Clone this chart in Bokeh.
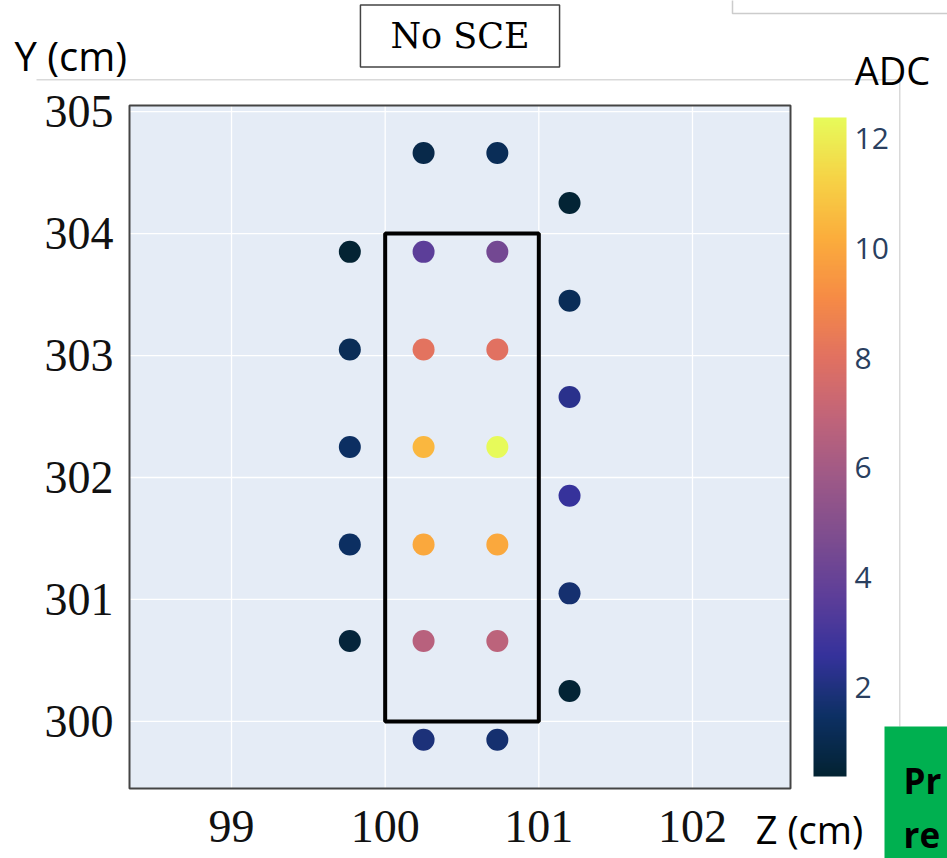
from bokeh.plotting import figure
from bokeh.models import (ColumnDataSource, LinearColorMapper, ColorBar, FixedTicker,
                          Label, BoxAnnotation, Range1d)
from bokeh.transform import transform
from bokeh.embed import file_html
from bokeh.resources import INLINE

# Hit positions on the wire plane (cm) and their charge (ADC)
z_cm = [99.77, 99.77, 99.77, 99.77, 99.77,
        100.25, 100.25, 100.25, 100.25, 100.25, 100.25, 100.25,
        100.73, 100.73, 100.73, 100.73, 100.73, 100.73, 100.73,
        101.20, 101.20, 101.20, 101.20, 101.20, 101.20]
y_cm = [303.85, 303.05, 302.25, 301.45, 300.66,
        304.66, 303.85, 303.05, 302.25, 301.45, 300.66, 299.85,
        304.66, 303.85, 303.05, 302.25, 301.45, 300.66, 299.85,
        304.25, 303.45, 302.66, 301.85, 301.05, 300.25]
adc = [0.38, 1.2, 1.45, 1.45, 0.6,
       0.9, 3.65, 8.1, 10.5, 10.0, 6.65, 1.9,
       1.2, 4.4, 8.0, 12.38, 10.0, 6.8, 1.7,
       0.45, 1.2, 2.3, 2.6, 1.7, 0.45]

# Region of interest (cm)
box_z = [100, 101]
box_y = [300, 304]

x_ticks = [99, 100, 101, 102]
y_ticks = [300, 301, 302, 303, 304, 305]
cbar_ticks = [2, 4, 6, 8, 10, 12]

# visible extent of the Z/Y plot area (cm)
z_view = [98.336, 102.638]
y_view = [299.45, 305.05]

# cmocean "thermal" colour stops
thermal_stops = [(3, 35, 51), (13, 48, 100), (53, 50, 155), (93, 62, 153),
                 (126, 77, 143), (158, 89, 135), (193, 100, 121), (225, 113, 97),
                 (246, 139, 69), (251, 173, 60), (246, 211, 70), (231, 250, 90)]


def build_palette(stops, n=256):
    out = []
    seg = len(stops) - 1
    for i in range(n):
        t = i / (n - 1) * seg
        k = min(int(t), seg - 1)
        f = t - k
        a, b = stops[k], stops[k + 1]
        rgb = [round(a[j] + (b[j] - a[j]) * f) for j in range(3)]
        out.append("#%02x%02x%02x" % tuple(rgb))
    return out


palette = build_palette(thermal_stops)

# page geometry (px): the canvas, and where the plot area sits on it
W, H = 947, 858
AREA_L, AREA_R, AREA_T, AREA_B = 129, 790, 105, 788

kx = (z_view[1] - z_view[0]) / (AREA_R - AREA_L)
ky = (y_view[1] - y_view[0]) / (AREA_B - AREA_T)
x_range = Range1d(z_view[0] - AREA_L * kx, z_view[1] + (W - AREA_R) * kx)
y_range = Range1d(y_view[0] - (H - AREA_B) * ky, y_view[1] + AREA_T * ky)


def sy(py):
    # screen units are measured upward from the bottom of the canvas
    return H - py


def screen_box(left, right, top, bottom, **kw):
    return BoxAnnotation(left=left, right=right, top=sy(top), bottom=sy(bottom),
                         left_units="screen", right_units="screen",
                         top_units="screen", bottom_units="screen", **kw)


p = figure(width=W, height=H, x_range=x_range, y_range=y_range,
           output_backend="svg", toolbar_location=None,
           min_border=0, min_border_left=0, min_border_right=0,
           min_border_top=0, min_border_bottom=0,
           background_fill_color="white", border_fill_color="white",
           outline_line_color=None)
p.title.visible = False
p.grid.visible = False

# plot area with its grid
p.quad(left=[z_view[0]], right=[z_view[1]], bottom=[y_view[0]], top=[y_view[1]],
       fill_color="#E5ECF6", line_color=None)
p.segment(x0=x_ticks, x1=x_ticks, y0=[y_view[0]] * len(x_ticks), y1=[y_view[1]] * len(x_ticks),
          line_color="white", line_width=1.3)
p.segment(x0=[z_view[0]] * len(y_ticks), x1=[z_view[1]] * len(y_ticks), y0=y_ticks, y1=y_ticks,
          line_color="white", line_width=1.3)
p.quad(left=[z_view[0]], right=[z_view[1]], bottom=[y_view[0]], top=[y_view[1]],
       fill_color=None, line_color="#444444", line_width=2)

# axes pinned to the edges of the plot area
p.xaxis.fixed_location = y_view[0]
p.yaxis.fixed_location = z_view[0]
p.xaxis.ticker = FixedTicker(ticks=x_ticks)
p.yaxis.ticker = FixedTicker(ticks=y_ticks)
for ax in (p.xaxis, p.yaxis):
    ax.axis_line_color = None
    ax.major_tick_line_color = None
    ax.minor_tick_line_color = None
    ax.major_label_text_font = "Liberation Serif"
    ax.major_label_text_font_size = "46px"
    ax.major_label_text_color = "#111111"
p.xaxis.major_label_standoff = 16
p.yaxis.major_label_standoff = 10

mapper = LinearColorMapper(palette=palette, low=min(adc), high=max(adc))
src = ColumnDataSource(dict(z=z_cm, y=y_cm, adc=adc))

p.quad(left=[box_z[0]], right=[box_z[1]], bottom=[box_y[0]], top=[box_y[1]],
       fill_color=None, line_color="black", line_width=4)
p.scatter("z", "y", source=src, size=22, line_color=None,
          fill_color=transform("adc", mapper))

cb = ColorBar(color_mapper=mapper, ticker=FixedTicker(ticks=cbar_ticks),
              width=33, height=659, padding=0, margin=0, location=(813, sy(776)),
              label_standoff=8, major_tick_line_color=None, bar_line_color=None,
              border_line_color=None, background_fill_color=None,
              major_label_text_font="Open Sans", major_label_text_font_size="30px",
              major_label_text_color="#2a3f5f")
p.add_layout(cb)

# outline of the embedded plot image
p.add_layout(screen_box(36, 899, 78.5, 80, fill_color="#d9d9d9", fill_alpha=1, line_color=None))
p.add_layout(screen_box(898.5, 900, 79, 726, fill_color="#d9d9d9", fill_alpha=1, line_color=None))

# boxes on the slide
p.add_layout(screen_box(732, 990, -40, 13, fill_alpha=0,
                        line_color="#555555", line_width=1.5))
p.add_layout(screen_box(884, 990, 726, 900, fill_color="#00B050", fill_alpha=1,
                        line_color=None))

p.add_layout(Label(x=459.5, y=sy(35.5), x_units="screen", y_units="screen",
                   text="No SCE", text_align="center", text_baseline="middle",
                   text_font="DejaVu Serif", text_font_size="35px", text_color="black",
                   background_fill_color="white", border_line_color="#444444",
                   border_line_width=1.5, padding=(30, 11)))

p.add_layout(Label(x=14, y=sy(55), x_units="screen", y_units="screen",
                   text="Y (cm)", text_align="left", text_baseline="middle",
                   text_font="Open Sans", text_font_size="40px", text_color="black"))
p.add_layout(Label(x=892, y=sy(69), x_units="screen", y_units="screen",
                   text="ADC", text_align="center", text_baseline="middle",
                   text_font="Open Sans", text_font_size="38px", text_color="black"))
p.add_layout(Label(x=809, y=sy(828), x_units="screen", y_units="screen",
                   text="Z (cm)", text_align="center", text_baseline="middle",
                   text_font="Open Sans", text_font_size="38px", text_color="black"))
p.add_layout(Label(x=903, y=sy(780), x_units="screen", y_units="screen",
                   text="Pr", text_align="left", text_baseline="alphabetic",
                   text_font="Open Sans", text_font_style="bold",
                   text_font_size="35px", text_color="black"))
p.add_layout(Label(x=903, y=sy(834), x_units="screen", y_units="screen",
                   text="re", text_align="left", text_baseline="alphabetic",
                   text_font="Open Sans", text_font_style="bold",
                   text_font_size="35px", text_color="black"))

open("out.html", "w").write(file_html(p, INLINE))
